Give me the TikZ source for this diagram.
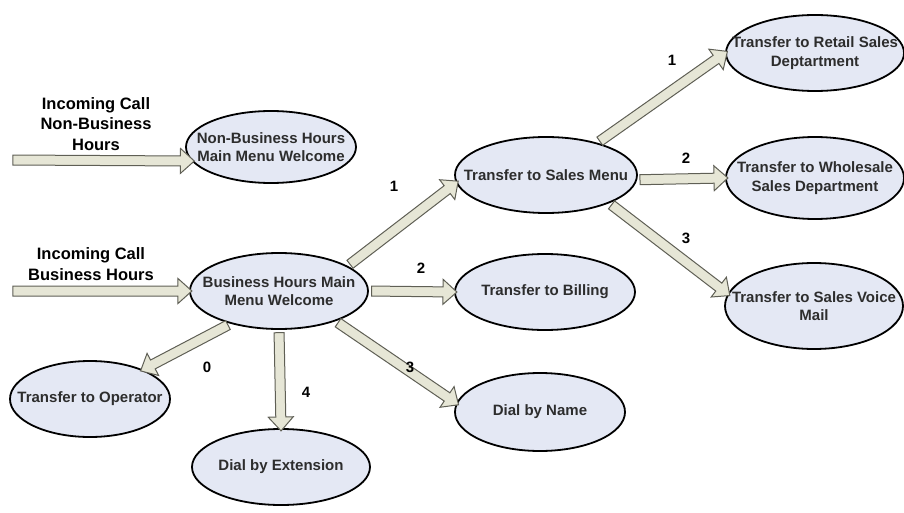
\documentclass[tikz,border=0pt]{standalone}
\usepackage{fontspec}
\setmainfont{Liberation Sans}
\usetikzlibrary{calc,shapes.geometric,shapes.arrows,positioning}
\definecolor{bubfill}{RGB}{228,232,244}
\definecolor{arrfill}{RGB}{230,230,214}
\definecolor{arrline}{RGB}{95,95,85}
\definecolor{bubtext}{RGB}{45,45,45}
% fat hollow arrow between two points
\newcommand{\fatarrow}[2]{%
  \path let \p1=(#1), \p2=(#2), \n1={atan2(\y2-\y1,\x2-\x1)},
    \n2={veclen(\x2-\x1,\y2-\y1)} in
    node[fatarr,minimum height=\n2,rotate=\n1] at ($(#1)!0.5!(#2)$) {};}

\begin{document}
\begin{tikzpicture}
    [x=1pt,y=-1pt,font=\bfseries,
     bubble/.style={ellipse,draw=black,line width=1.8pt,fill=bubfill,
       minimum width=178pt,minimum height=76pt,inner sep=0pt},
     bubtxt/.style={font=\fontsize{15}{18.5}\selectfont\bfseries,text=bubtext,align=center},
     fatarr/.style={single arrow,draw=arrline,fill=arrfill,line width=1pt,
       inner xsep=0pt,inner ysep=4.5pt,minimum width=0pt,single arrow head extend=7.5pt,
       single arrow tip angle=84},
     numlab/.style={font=\fontsize{15}{17}\selectfont\bfseries},
     inlab/.style={font=\fontsize{16.5}{20.5}\selectfont\bfseries,align=center}]
    \useasboundingbox (0,0) rectangle (904,513);

    \node (nblab) [inlab] at (96,124) {Incoming Call\\Non-Business\\Hours};
    \node (blab) [inlab] at (91,264) {Incoming Call\\Business Hours};
    \coordinate (nbin) at (10,160);
    \coordinate (bin) at (10,291);

    \node (nonbiz) [bubble,minimum width=170pt,minimum height=72pt,
      label={[bubtxt]center:{Non-Business Hours\\Main Menu Welcome}}] at (271,147) {};
    \node (bizmain) [bubble,
      label={[bubtxt]center:{Business Hours Main\\Menu Welcome}}] at (279,291) {};
    \node (sales) [bubble,minimum width=182pt,
      label={[bubtxt]center:Transfer to Sales Menu}] at (546,175) {};
    \node (billing) [bubble,minimum width=180pt,
      label={[bubtxt]center:Transfer to Billing}] at (545,292) {};
    \node (retail) [bubble,
      label={[bubtxt]center:{Transfer to Retail Sales\\Deptartment}}] at (815,53) {};
    \node (wholesale) [bubble,minimum height=82pt,
      label={[bubtxt]center:{Transfer to Wholesale\\Sales Department}}] at (815,178) {};
    \node (voicemail) [bubble,minimum height=86pt,
      label={[bubtxt]center:{Transfer to Sales Voice\\Mail}}] at (814,306) {};
    \node (operator) [bubble,minimum width=160pt,
      label={[bubtxt]center:Transfer to Operator}] at (90,399) {};
    \node (extension) [bubble,
      label={[bubtxt]center:Dial by Extension}] at (281,467) {};
    \node (byname) [bubble,minimum width=170pt,minimum height=78pt,
      label={[bubtxt]center:Dial by Name}] at (540,412) {};

    \foreach \a/\b in {nbin/nonbiz.190,bin/bizmain.west,bizmain.20/sales.185,
      bizmain.east/billing.west,bizmain.214/operator.29,bizmain.south/extension.north,
      bizmain.332/byname.174,sales.32/retail.180,sales.357/wholesale.180,
      sales.336/voicemail.172} {
      \fatarrow{\a}{\b}
    }

    \node (n1) [numlab] at (394,186) {1};
    \node (n2) [numlab] at (421,268) {2};
    \node (n3) [numlab] at (410,367) {3};
    \node (n0) [numlab] at (207,367) {0};
    \node (n4) [numlab] at (306,392) {4};
    \node (s1) [numlab] at (672,60) {1};
    \node (s2) [numlab] at (686,158) {2};
    \node (s3) [numlab] at (686,238) {3};
  \end{tikzpicture}
\end{document}
